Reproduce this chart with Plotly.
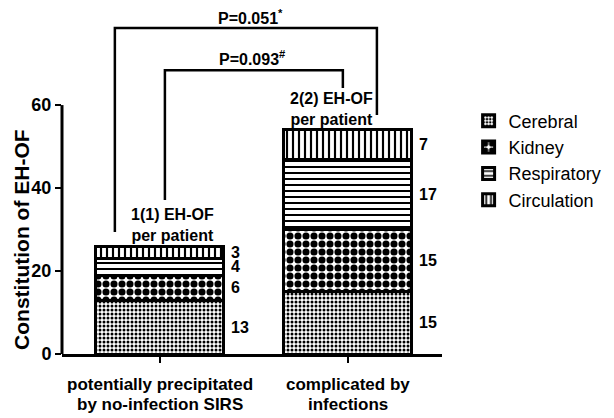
import plotly.graph_objects as go

categories = [["potentially precipitated", "by no-infection SIRS"], ["complicated by", "infections"]]
series_names = ["Cerebral", "Kidney", "Respiratory", "Circulation"]
cerebral = [13, 15]
kidney = [6, 15]
respiratory = [4, 17]
circulation = [3, 7]
values = [cerebral, kidney, respiratory, circulation]
y_ticks = [0, 20, 40, 60]
bar_notes = ["1(1) EH-OF<br>per patient", "2(2) EH-OF<br>per patient"]
p_outer = "P=0.051<sup>*</sup>"
p_inner = "P=0.093<sup>#</sup>"

FONT = "Liberation Sans, Arial, sans-serif"
patterns = [
    dict(shape=".", size=4, solidity=0.45, fgcolor="black", bgcolor="white", fgopacity=1),
    dict(shape=".", size=8, solidity=0.62, fgcolor="black", bgcolor="white", fgopacity=1),
    dict(shape="-", size=6, solidity=0.33, fgcolor="black", bgcolor="white", fgopacity=1),
    dict(shape="|", size=6, solidity=0.36, fgcolor="black", bgcolor="white", fgopacity=1),
]

xpos = [0, 1]
fig = go.Figure()
for name, vals, pat in zip(series_names, values, patterns):
    fig.add_trace(go.Bar(
        x=xpos, y=vals, name=name, width=0.68,
        marker=dict(color="white", pattern=pat, line=dict(color="black", width=3)),
    ))

# value labels at segment middles
for i, x in enumerate(xpos):
    base = 0
    for vals in values:
        v = vals[i]
        fig.add_annotation(x=x + 0.34, y=base + v / 2, text=f"<b>{v}</b>", showarrow=False,
                           xanchor="left", xshift=5, font=dict(size=16, color="black", family=FONT))
        base += v

totals = [sum(v[i] for v in values) for i in range(2)]
note_x = [0.07, 0.91]
for i in range(2):
    fig.add_annotation(x=note_x[i], y=totals[i], text=f"<b>{bar_notes[i]}</b>", showarrow=False,
                       yanchor="bottom", font=dict(size=16, color="black", family=FONT))

# category labels (two lines each)
for i, x in enumerate(xpos):
    for j, txt in enumerate(categories[i]):
        fig.add_annotation(x=x, y=0, yref="paper", yshift=-30 - 20 * j, yanchor="middle",
                           text=f"<b>{txt}</b>", showarrow=False,
                           font=dict(size=17, color="black", family=FONT))

# brackets
line = dict(color="black", width=2.5)
fig.add_shape(type="path", path="M -0.239 29.4 L -0.239 78.6 L 1.154 78.6 L 1.154 57.6",
              xref="x", yref="y", line=line)
fig.add_shape(type="path", path="M 0.027 37.1 L 0.027 68.4 L 0.973 68.4 L 0.973 64.1",
              xref="x", yref="y", line=line)
fig.add_annotation(x=0.48, y=81.2, text=f"<b>{p_outer}</b>", showarrow=False,
                   font=dict(size=16, color="black", family=FONT))
fig.add_annotation(x=0.49, y=71.3, text=f"<b>{p_inner}</b>", showarrow=False,
                   font=dict(size=16, color="black", family=FONT))

# y axis line only from 0 to 60
fig.add_shape(type="line", xref="paper", yref="y", x0=0, x1=0, y0=0, y1=60,
              line=dict(color="black", width=3))

# y axis title
fig.add_annotation(xref="paper", yref="y", x=0, y=27.5, xshift=-40, xanchor="center",
                   yanchor="middle", textangle=-90,
                   text="<b>Constitution of EH-OF</b>", showarrow=False,
                   font=dict(size=21, color="black", family=FONT))

# page body has an 8px margin, so the figure is 8px smaller than the window
fig.update_layout(
    barmode="stack",
    width=606, height=410,
    margin=dict(l=54, r=172, t=0, b=64),
    plot_bgcolor="white", paper_bgcolor="white",
    font=dict(family=FONT, color="black"),
    showlegend=True,
    legend=dict(x=1.07, y=0.727, xanchor="left", yanchor="top",
                font=dict(size=18, color="black", family=FONT), traceorder="normal"),
    xaxis=dict(range=[-0.52, 1.5], tickvals=xpos, ticktext=["", ""],
               showline=True, linecolor="black", linewidth=3, ticks="outside", ticklen=6,
               tickwidth=2, tickcolor="black", showgrid=False, zeroline=False),
    yaxis=dict(range=[0, 83.4], tickvals=y_ticks, ticktext=[f"<b>{t}</b>" for t in y_ticks],
               showline=False, ticks="outside", ticklen=6, tickwidth=2, tickcolor="black",
               showgrid=False, zeroline=False,
               tickfont=dict(size=18, color="black", family=FONT)),
)

fig.write_html("out.html")
